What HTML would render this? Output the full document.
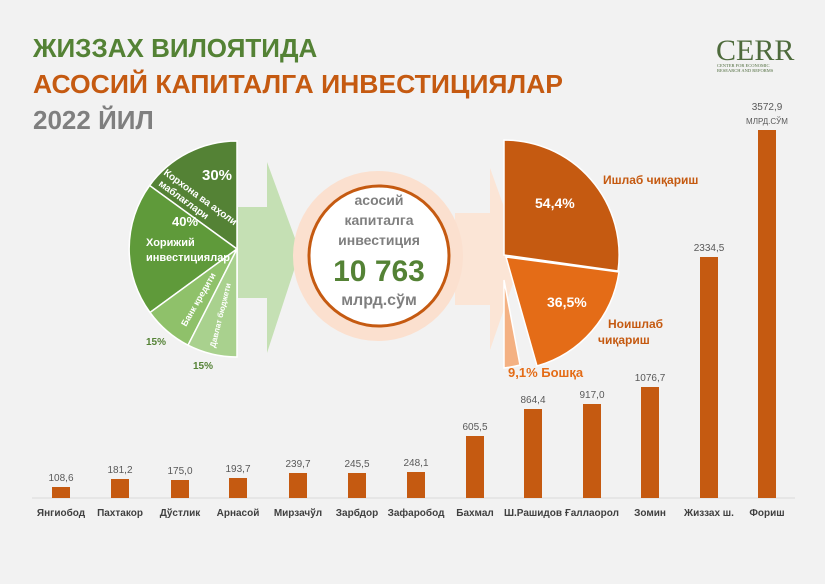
<!DOCTYPE html>
<html><head><meta charset="utf-8"><style>
body{margin:0;background:#f2f2f2;}
svg{display:block;font-family:"Liberation Sans",sans-serif;}
</style></head><body>
<svg width="825" height="584" viewBox="0 0 825 584" xmlns="http://www.w3.org/2000/svg">
<rect width="825" height="584" fill="#f2f2f2"/>
<text x="33" y="57" font-size="26" font-weight="bold" fill="#548235">ЖИЗЗАХ ВИЛОЯТИДА</text>
<text x="33" y="93" font-size="26" font-weight="bold" fill="#c55a11" textLength="530" lengthAdjust="spacingAndGlyphs">АСОСИЙ КАПИТАЛГА ИНВЕСТИЦИЯЛАР</text>
<text x="33" y="129" font-size="26" font-weight="bold" fill="#7f7f7f">2022 ЙИЛ</text>
<text x="716" y="60" font-size="30" font-family="Liberation Serif,serif" fill="#4e6b3c">CERR</text>
<text x="717" y="67" font-size="4.5" font-family="Liberation Serif,serif" fill="#4e6b3c">CENTER FOR ECONOMIC</text>
<text x="717" y="72" font-size="4.5" font-family="Liberation Serif,serif" fill="#4e6b3c">RESEARCH AND REFORMS</text>
<polygon points="238,207 267,207 267,162 300,252 267,353 267,298 238,298" fill="#c5e0b4"/>
<polygon points="455,213 490,213 490,168 522,257 490,350 490,305 455,305" fill="#fbe5d6"/>
<circle cx="378" cy="256" r="85" fill="#fbe0cf"/>
<circle cx="379" cy="256" r="70" fill="#fff" stroke="#c55a11" stroke-width="3"/>
<g text-anchor="middle" font-weight="bold" fill="#7f7f7f" font-size="14">
<text x="379" y="205">асосий</text>
<text x="379" y="225">капиталга</text>
<text x="379" y="245">инвестиция</text>
<text x="379" y="281" font-size="30" fill="#548235">10 763</text>
<text x="379" y="305" font-size="16">млрд.сўм</text>
</g>
<g stroke="#fff" stroke-width="1.5">
<path d="M237,249 L237,141 A108,108 0 0 0 149.6,185.5 Z" fill="#548235"/>
<path d="M237,249 L149.6,185.5 A108,108 0 0 0 150,312.5 Z" fill="#5f9a3a"/>
<path d="M237,249 L150,312.5 A108,108 0 0 0 188,345.2 Z" fill="#8fc16a"/>
<path d="M237,249 L188,345.2 A108,108 0 0 0 237,357 Z" fill="#a9d18e"/>
</g>
<g font-weight="bold" fill="#fff">
<text x="202" y="180" font-size="15">30%</text>
<text x="172" y="226" font-size="13">40%</text>
<text x="146" y="246" font-size="11">Хорижий</text>
<text x="146" y="261" font-size="11">инвестициялар</text>
<text x="163" y="174" font-size="10" transform="rotate(36 163 174)">Корхона ва аҳоли</text>
<text x="158" y="185" font-size="10" transform="rotate(36 158 185)">маблағлари</text>
<text x="186" y="327" font-size="9" transform="rotate(-60 186 327)">Банк кредити</text>
<text x="215" y="348" font-size="8" transform="rotate(-76 215 348)">Давлат бюджети</text>
</g>
<text x="146" y="345" font-size="10" font-weight="bold" fill="#548235">15%</text>
<text x="193" y="369" font-size="10" font-weight="bold" fill="#548235">15%</text>
<g stroke="#fff" stroke-width="1.5">
<path d="M504,280 L520,365 A115,115 0 0 1 504,368 Z" fill="#f4b183"/>
<path d="M504,255 L504,140 A115,115 0 0 1 618,271 Z" fill="#c55a11"/>
<path d="M506,257 L619,272 A115,115 0 0 1 537,366 Z" fill="#e46c17"/>
</g>
<g font-weight="bold" font-size="14">
<text x="535" y="208" fill="#fff">54,4%</text>
<text x="547" y="307" fill="#fff">36,5%</text>
<text x="603" y="184" fill="#c55a11" font-size="12">Ишлаб чиқариш</text>
<text x="608" y="328" fill="#c55a11" font-size="12">Ноишлаб</text>
<text x="598" y="344" fill="#c55a11" font-size="12">чиқариш</text>
<text x="508" y="377" fill="#e46c17" font-size="13">9,1% Бошқа</text>
</g>
<line x1="32" y1="498" x2="795" y2="498" stroke="#d9d9d9" stroke-width="1"/>
<g fill="#c55a11">
<rect x="52" y="487" width="18" height="11"/>
<rect x="111" y="479" width="18" height="19"/>
<rect x="171" y="480" width="18" height="18"/>
<rect x="229" y="478" width="18" height="20"/>
<rect x="289" y="473" width="18" height="25"/>
<rect x="348" y="473" width="18" height="25"/>
<rect x="407" y="472" width="18" height="26"/>
<rect x="466" y="436" width="18" height="62"/>
<rect x="524" y="409" width="18" height="89"/>
<rect x="583" y="404" width="18" height="94"/>
<rect x="641" y="387" width="18" height="111"/>
<rect x="700" y="257" width="18" height="241"/>
<rect x="758" y="130" width="18" height="368"/>
</g>
<g font-size="10" fill="#595959" text-anchor="middle">
<text x="61" y="481">108,6</text>
<text x="120" y="473">181,2</text>
<text x="180" y="474">175,0</text>
<text x="238" y="472">193,7</text>
<text x="298" y="467">239,7</text>
<text x="357" y="467">245,5</text>
<text x="416" y="466">248,1</text>
<text x="475" y="430">605,5</text>
<text x="533" y="403">864,4</text>
<text x="592" y="398">917,0</text>
<text x="650" y="381">1076,7</text>
<text x="709" y="251">2334,5</text>
<text x="767" y="110">3572,9</text>
<text x="767" y="124" font-size="8">МЛРД.СЎМ</text>
</g>
<g font-size="10" font-weight="bold" fill="#404040" text-anchor="middle">
<text x="61" y="516">Янгиобод</text>
<text x="120" y="516">Пахтакор</text>
<text x="180" y="516">Дўстлик</text>
<text x="238" y="516">Арнасой</text>
<text x="298" y="516">Мирзачўл</text>
<text x="357" y="516">Зарбдор</text>
<text x="416" y="516">Зафаробод</text>
<text x="475" y="516">Бахмал</text>
<text x="533" y="516">Ш.Рашидов</text>
<text x="592" y="516">Ғаллаорол</text>
<text x="650" y="516">Зомин</text>
<text x="709" y="516">Жиззах ш.</text>
<text x="767" y="516">Фориш</text>
</g>
</svg>
</body></html>
